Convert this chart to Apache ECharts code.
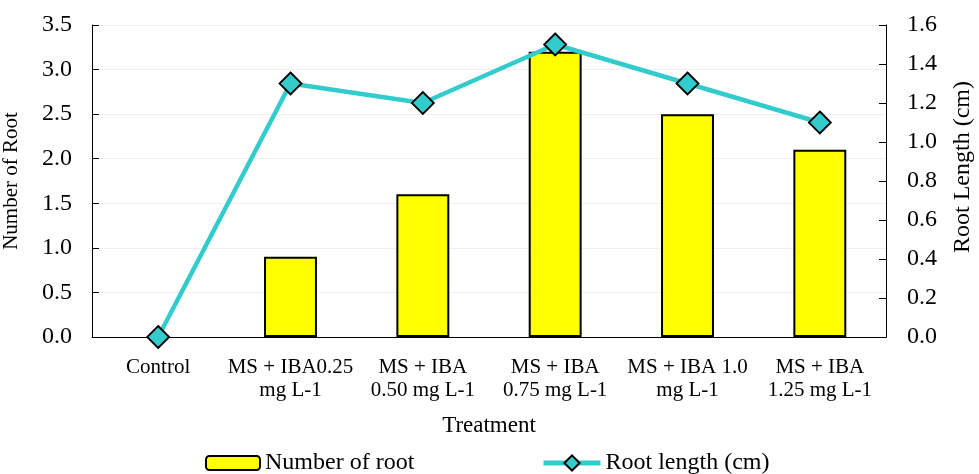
<!DOCTYPE html>
<html>
<head>
<meta charset="utf-8">
<script src="https://cdn.jsdelivr.net/npm/echarts@6/dist/echarts.min.js"></script>
<style>
  html, body { margin: 0; padding: 0; background: #fff; }
  #chart { width: 979px; height: 474px; }
</style>
</head>
<body>
<div id="chart"></div>
<script>
// Treatments on the x axis
const categories = [
  'Control',
  'MS + IBA0.25\nmg L-1',
  'MS + IBA\n0.50 mg L-1',
  'MS + IBA\n0.75 mg L-1',
  'MS + IBA 1.0\nmg L-1',
  'MS + IBA\n1.25 mg L-1'
];
// Mean number of roots per explant (left axis)
const numberOfRoot = [0, 0.9, 1.6, 3.2, 2.5, 2.1];
// Mean root length in cm (right axis)
const rootLength = [0, 1.3, 1.2, 1.5, 1.3, 1.1];

const FONT = '"Liberation Serif", "Times New Roman", serif';

// A zero-height bar should not leave a stray outline on the baseline
const barData = numberOfRoot.map(v => v === 0 ? { value: v, itemStyle: { borderWidth: 0 } } : v);

const legendText = { color: '#000', fontFamily: FONT, fontSize: 24 };

const chart = echarts.init(document.getElementById('chart'));
chart.setOption({
  animation: false,
  backgroundColor: '#fff',
  textStyle: { fontFamily: FONT },
  grid: { left: 92, right: 93, top: 25, bottom: 137, containLabel: false, outerBoundsMode: 'none' },
  legend: [
    {
      top: 451, left: 205, padding: 0,
      itemWidth: 54, itemHeight: 14,
      textStyle: legendText,
      data: ['Number of root']
    },
    {
      top: 451, left: 541, padding: 0,
      itemWidth: 57, itemHeight: 19,
      textStyle: legendText,
      lineStyle: { width: 5 },
      data: ['Root length (cm)']
    }
  ],
  xAxis: {
    type: 'category',
    data: categories,
    name: 'Treatment',
    nameLocation: 'middle',
    nameGap: 77,
    nameTextStyle: { color: '#000', fontFamily: FONT, fontSize: 23 },
    axisLine: { lineStyle: { color: '#000', width: 1 } },
    axisTick: { inside: true, length: 6, lineStyle: { color: '#000' } },
    axisLabel: { interval: 0, margin: 19, lineHeight: 23, color: '#000', fontFamily: FONT, fontSize: 21 }
  },
  yAxis: [
    {
      type: 'value',
      min: 0, max: 3.5, interval: 0.5,
      name: 'Number of Root',
      nameLocation: 'middle',
      nameGap: 70,
      nameTextStyle: { color: '#000', fontFamily: FONT, fontSize: 21 },
      axisLine: { show: true, lineStyle: { color: '#000' } },
      axisTick: { show: true, inside: true, length: 7, lineStyle: { color: '#000' } },
      axisLabel: { margin: 20, color: '#000', fontFamily: FONT, fontSize: 24, formatter: v => v.toFixed(1) },
      splitLine: { show: true, lineStyle: { color: '#efefef', width: 1 } }
    },
    {
      type: 'value',
      min: 0, max: 1.6, interval: 0.2,
      axisLine: { show: true, lineStyle: { color: '#000' } },
      axisTick: { show: true, inside: true, length: 7, lineStyle: { color: '#000' } },
      axisLabel: { margin: 21, color: '#000', fontFamily: FONT, fontSize: 24, formatter: v => v.toFixed(1) },
      splitLine: { show: false }
    }
  ],
  // Right-hand axis title, set a little above the axis middle
  graphic: [
    {
      type: 'text',
      x: 963, y: 167,
      rotation: Math.PI / 2,
      style: {
        text: 'Root Length (cm)',
        fill: '#000',
        font: '24px ' + FONT,
        align: 'center',
        verticalAlign: 'middle'
      }
    }
  ],
  series: [
    {
      name: 'Number of root',
      type: 'bar',
      yAxisIndex: 0,
      data: barData,
      barWidth: '40%',
      itemStyle: { color: '#ffff00', borderColor: '#000', borderWidth: 2 }
    },
    {
      name: 'Root length (cm)',
      type: 'line',
      yAxisIndex: 1,
      data: rootLength,
      symbol: 'diamond',
      symbolSize: 22,
      z: 5,
      lineStyle: { color: '#33cccc', width: 4.5 },
      itemStyle: { color: '#33cccc', borderColor: '#000', borderWidth: 1.8 }
    }
  ]
});
</script>
</body>
</html>
